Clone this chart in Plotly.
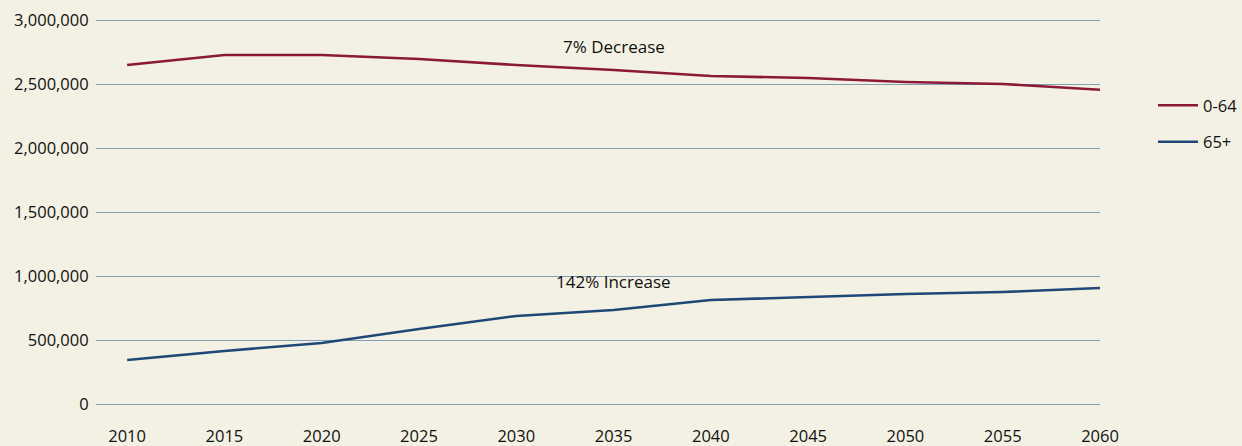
import plotly.graph_objects as go

years = [2010, 2015, 2020, 2025, 2030, 2035, 2040, 2045, 2050, 2055, 2060]
age_0_64 = [2648000, 2727000, 2727000, 2695000, 2648000, 2609000, 2562000, 2547000, 2516000, 2500000, 2455000]
age_65_plus = [344000, 414000, 477000, 586000, 688000, 734000, 812000, 836000, 859000, 875000, 906000]
y_ticks = [0, 500000, 1000000, 1500000, 2000000, 2500000, 3000000]
y_labels = ["0", "500,000", "1,000,000", "1,500,000", "2,000,000", "2,500,000", "3,000,000"]

bg = "#F3F1E3"
font = "Open Sans"
fs = 16.5

fig = go.Figure()
fig.add_trace(go.Scatter(x=years, y=age_0_64, mode="lines", name="0-64", legendgroup="a",
                         line=dict(color="#8B1A35", width=2.6)))
fig.add_trace(go.Scatter(x=years, y=age_65_plus, mode="lines", name="65+", legendgroup="b",
                         line=dict(color="#1F4777", width=2.6)))

fig.add_annotation(x=2035, y=2900000, text="7% Decrease", showarrow=False,
                   yanchor="top", font=dict(size=17, color="#111111", family=font))
fig.add_annotation(x=2035, y=1066000, text="142% Increase", showarrow=False,
                   yanchor="top", font=dict(size=17, color="#111111", family=font))

fig.update_layout(
    width=1242, height=446,
    paper_bgcolor=bg, plot_bgcolor=bg,
    margin=dict(l=96, r=142, t=17, b=40, autoexpand=False),
    font=dict(family=font, size=fs, color="#111111"),
    showlegend=True,
    legend=dict(xref="container", yref="container", x=1153 / 1242, y=1 - 88 / 446,
                xanchor="left", yanchor="top",
                bgcolor="rgba(0,0,0,0)", font=dict(size=fs, family=font),
                tracegroupgap=12, itemwidth=40, traceorder="grouped"),
    xaxis=dict(range=[2008.4, 2060.0], tickmode="array", tickvals=years,
               ticktext=[str(y) for y in years], showgrid=False, zeroline=False,
               showline=False, ticks="outside", ticklen=15, tickcolor=bg,
               automargin=False, tickfont=dict(size=fs, family=font)),
    yaxis=dict(range=[-15625, 3023437], tickmode="array", tickvals=y_ticks,
               ticktext=y_labels, showgrid=True, gridcolor="#819EBC", gridwidth=1,
               zeroline=False, showline=False, ticks="outside", ticklen=3,
               automargin=False, tickcolor=bg, tickfont=dict(size=fs, family=font)),
)

fig.write_html("out.html", config={"displayModeBar": False},
               post_script="document.body.style.margin='0';document.body.style.overflow='hidden';")
